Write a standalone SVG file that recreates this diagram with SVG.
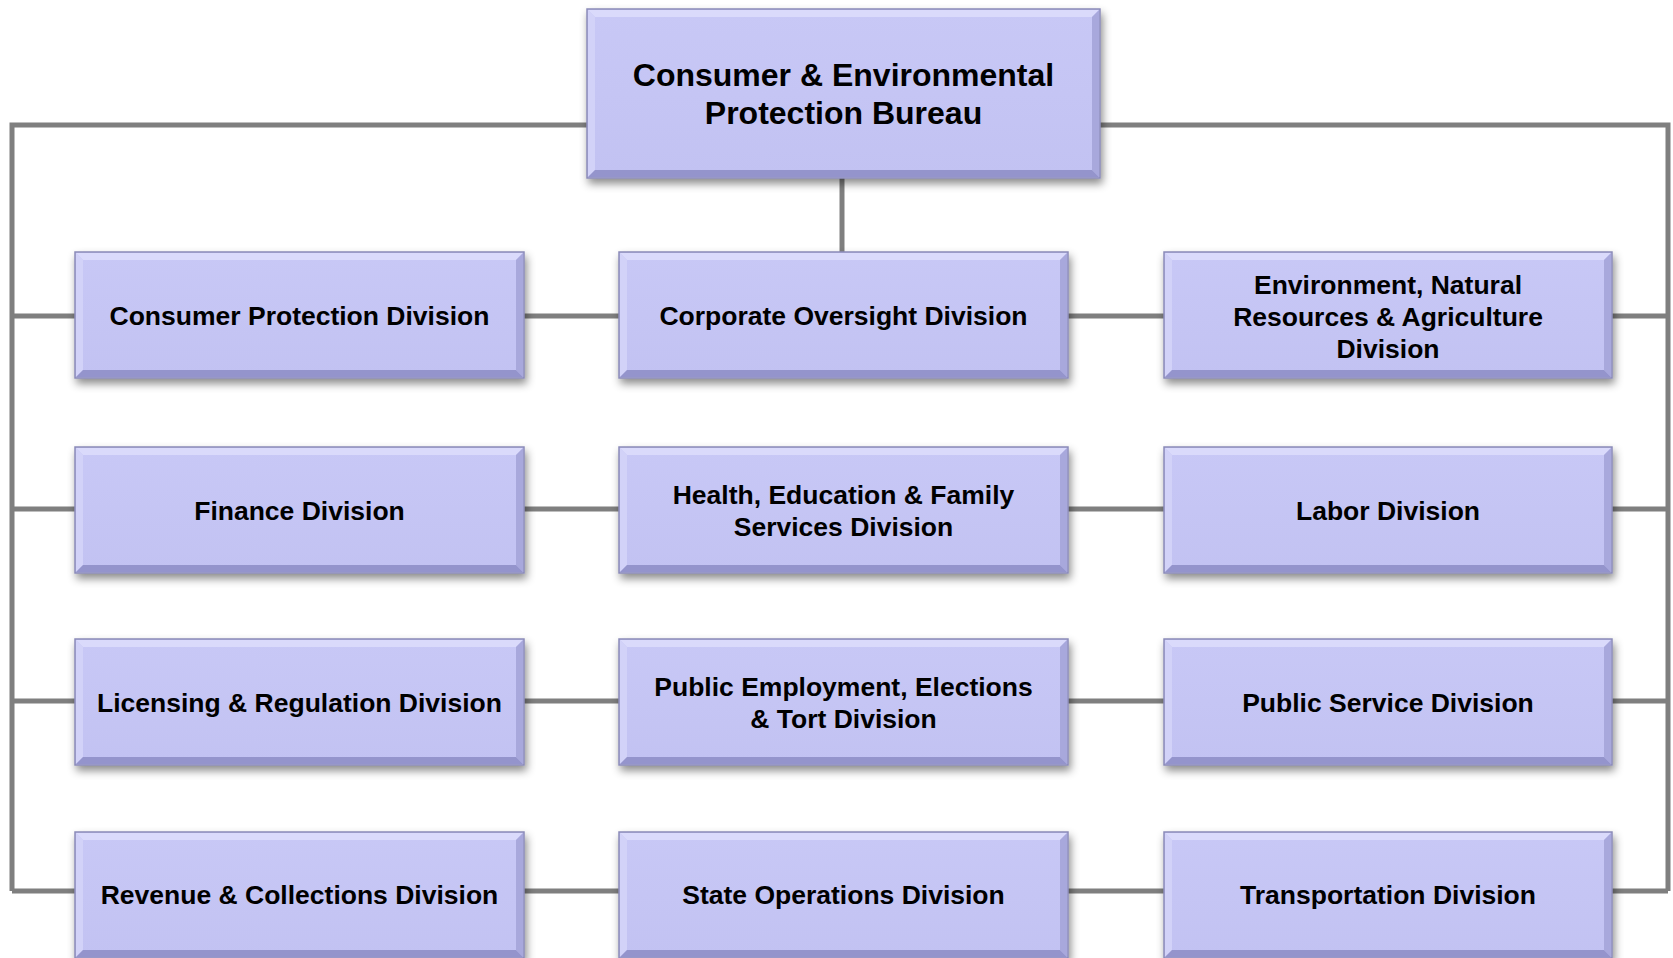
<svg xmlns="http://www.w3.org/2000/svg" width="1673" height="958" viewBox="0 0 1673 958">
<defs>
<filter id="sh" x="-10%" y="-20%" width="120%" height="150%">
<feDropShadow dx="2" dy="5" stdDeviation="4" flood-color="#000" flood-opacity="0.45"/>
</filter>
<linearGradient id="fillg" x1="0" y1="0" x2="0" y2="1">
<stop offset="0" stop-color="#c8c8f6"/>
<stop offset="1" stop-color="#c2c2f2"/>
</linearGradient>
<style>
.conn{fill:none;stroke:#7f7f7f;stroke-width:5;stroke-linejoin:miter;stroke-linecap:butt}
.box{fill:url(#fillg);stroke:#8a8ab8;stroke-width:1.5}
.bt{fill:#dadafb}
.bl{fill:#d2d2f8}
.br{fill:#a8a8dc}
.bb{fill:#9494cc}
.t{font-family:"Liberation Sans",Arial,sans-serif;font-weight:bold;font-size:26.5px;fill:#000;text-anchor:middle}
.tt{font-family:"Liberation Sans",Arial,sans-serif;font-weight:bold;font-size:32px;fill:#000;text-anchor:middle}
</style>
</defs>
<g id="connectors">
<path class="conn" d="M12,891 V125 H1668 V891"/>
<path class="conn" d="M842,178 V252"/>
<path class="conn" d="M12,316 H1668"/>
<path class="conn" d="M12,509 H1668"/>
<path class="conn" d="M12,701 H1668"/>
<path class="conn" d="M12,891 H1668"/>
</g>

<g id="bureau">
<g filter="url(#sh)">
<rect class="box" x="587" y="9" width="513" height="169"/>
</g>
<polygon class="bt" points="588,10 1099,10 1092,17 595,17"/>
<polygon class="bl" points="588,10 595,17 595,170 588,177"/>
<polygon class="br" points="1099,10 1099,177 1092,170 1092,17"/>
<polygon class="bb" points="588,177 1099,177 1092,170 595,170"/>
<text class="tt" x="843.5" y="86">Consumer &amp; Environmental</text>
<text class="tt" x="843.5" y="124">Protection Bureau</text>
</g>

<!-- row 1 -->
<g id="consumer-protection">
<g filter="url(#sh)"><rect class="box" x="75" y="252" width="449" height="126"/></g>
<polygon class="bt" points="76,253 523,253 516,260 83,260"/>
<polygon class="bl" points="76,253 83,260 83,370 76,377"/>
<polygon class="br" points="523,253 523,377 516,370 516,260"/>
<polygon class="bb" points="76,377 523,377 516,370 83,370"/>
<text class="t" x="299.5" y="325">Consumer Protection Division</text>
</g>
<g id="corporate-oversight">
<g filter="url(#sh)"><rect class="box" x="619" y="252" width="449" height="126"/></g>
<polygon class="bt" points="620,253 1067,253 1060,260 627,260"/>
<polygon class="bl" points="620,253 627,260 627,370 620,377"/>
<polygon class="br" points="1067,253 1067,377 1060,370 1060,260"/>
<polygon class="bb" points="620,377 1067,377 1060,370 627,370"/>
<text class="t" x="843.5" y="325">Corporate Oversight Division</text>
</g>
<g id="environment">
<g filter="url(#sh)"><rect class="box" x="1164" y="252" width="448" height="126"/></g>
<polygon class="bt" points="1165,253 1611,253 1604,260 1172,260"/>
<polygon class="bl" points="1165,253 1172,260 1172,370 1165,377"/>
<polygon class="br" points="1611,253 1611,377 1604,370 1604,260"/>
<polygon class="bb" points="1165,377 1611,377 1604,370 1172,370"/>
<text class="t" x="1388" y="294">Environment, Natural</text>
<text class="t" x="1388" y="326">Resources &amp; Agriculture</text>
<text class="t" x="1388" y="358">Division</text>
</g>

<!-- row 2 -->
<g id="finance">
<g filter="url(#sh)"><rect class="box" x="75" y="447" width="449" height="126"/></g>
<polygon class="bt" points="76,448 523,448 516,455 83,455"/>
<polygon class="bl" points="76,448 83,455 83,565 76,572"/>
<polygon class="br" points="523,448 523,572 516,565 516,455"/>
<polygon class="bb" points="76,572 523,572 516,565 83,565"/>
<text class="t" x="299.5" y="520">Finance Division</text>
</g>
<g id="health-education">
<g filter="url(#sh)"><rect class="box" x="619" y="447" width="449" height="126"/></g>
<polygon class="bt" points="620,448 1067,448 1060,455 627,455"/>
<polygon class="bl" points="620,448 627,455 627,565 620,572"/>
<polygon class="br" points="1067,448 1067,572 1060,565 1060,455"/>
<polygon class="bb" points="620,572 1067,572 1060,565 627,565"/>
<text class="t" x="843.5" y="504">Health, Education &amp; Family</text>
<text class="t" x="843.5" y="536">Services Division</text>
</g>
<g id="labor">
<g filter="url(#sh)"><rect class="box" x="1164" y="447" width="448" height="126"/></g>
<polygon class="bt" points="1165,448 1611,448 1604,455 1172,455"/>
<polygon class="bl" points="1165,448 1172,455 1172,565 1165,572"/>
<polygon class="br" points="1611,448 1611,572 1604,565 1604,455"/>
<polygon class="bb" points="1165,572 1611,572 1604,565 1172,565"/>
<text class="t" x="1388" y="520">Labor Division</text>
</g>

<!-- row 3 -->
<g id="licensing">
<g filter="url(#sh)"><rect class="box" x="75" y="639" width="449" height="126"/></g>
<polygon class="bt" points="76,640 523,640 516,647 83,647"/>
<polygon class="bl" points="76,640 83,647 83,757 76,764"/>
<polygon class="br" points="523,640 523,764 516,757 516,647"/>
<polygon class="bb" points="76,764 523,764 516,757 83,757"/>
<text class="t" x="299.5" y="712">Licensing &amp; Regulation Division</text>
</g>
<g id="public-employment">
<g filter="url(#sh)"><rect class="box" x="619" y="639" width="449" height="126"/></g>
<polygon class="bt" points="620,640 1067,640 1060,647 627,647"/>
<polygon class="bl" points="620,640 627,647 627,757 620,764"/>
<polygon class="br" points="1067,640 1067,764 1060,757 1060,647"/>
<polygon class="bb" points="620,764 1067,764 1060,757 627,757"/>
<text class="t" x="843.5" y="696">Public Employment, Elections</text>
<text class="t" x="843.5" y="728">&amp; Tort Division</text>
</g>
<g id="public-service">
<g filter="url(#sh)"><rect class="box" x="1164" y="639" width="448" height="126"/></g>
<polygon class="bt" points="1165,640 1611,640 1604,647 1172,647"/>
<polygon class="bl" points="1165,640 1172,647 1172,757 1165,764"/>
<polygon class="br" points="1611,640 1611,764 1604,757 1604,647"/>
<polygon class="bb" points="1165,764 1611,764 1604,757 1172,757"/>
<text class="t" x="1388" y="712">Public Service Division</text>
</g>

<!-- row 4 -->
<g id="revenue">
<g filter="url(#sh)"><rect class="box" x="75" y="832" width="449" height="126"/></g>
<polygon class="bt" points="76,833 523,833 516,840 83,840"/>
<polygon class="bl" points="76,833 83,840 83,950 76,957"/>
<polygon class="br" points="523,833 523,957 516,950 516,840"/>
<polygon class="bb" points="76,957 523,957 516,950 83,950"/>
<text class="t" x="299.5" y="904">Revenue &amp; Collections Division</text>
</g>
<g id="state-operations">
<g filter="url(#sh)"><rect class="box" x="619" y="832" width="449" height="126"/></g>
<polygon class="bt" points="620,833 1067,833 1060,840 627,840"/>
<polygon class="bl" points="620,833 627,840 627,950 620,957"/>
<polygon class="br" points="1067,833 1067,957 1060,950 1060,840"/>
<polygon class="bb" points="620,957 1067,957 1060,950 627,950"/>
<text class="t" x="843.5" y="904">State Operations Division</text>
</g>
<g id="transportation">
<g filter="url(#sh)"><rect class="box" x="1164" y="832" width="448" height="126"/></g>
<polygon class="bt" points="1165,833 1611,833 1604,840 1172,840"/>
<polygon class="bl" points="1165,833 1172,840 1172,950 1165,957"/>
<polygon class="br" points="1611,833 1611,957 1604,950 1604,840"/>
<polygon class="bb" points="1165,957 1611,957 1604,950 1172,950"/>
<text class="t" x="1388" y="904">Transportation Division</text>
</g>
</svg>
